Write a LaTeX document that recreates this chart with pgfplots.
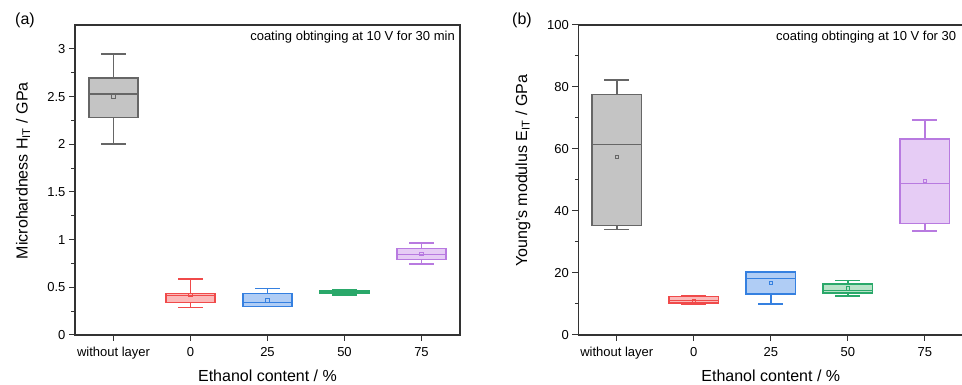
\documentclass[border=0pt]{standalone}
\usepackage{fontspec}
\setmainfont{Liberation Sans}
\usepackage{pgfplots}
\pgfplotsset{compat=1.18}
\usepgfplotslibrary{statistics}

\definecolor{gstroke}{HTML}{666666}\definecolor{gfill}{HTML}{C4C4C4}
\definecolor{rstroke}{HTML}{F04A4A}\definecolor{rfill}{HTML}{FBB9B9}
\definecolor{bstroke}{HTML}{3580E0}\definecolor{bfill}{HTML}{B0CDF5}
\definecolor{tstroke}{HTML}{2AA86A}\definecolor{tfill}{HTML}{B8E3C8}
\definecolor{pstroke}{HTML}{B87AE0}\definecolor{pfill}{HTML}{E6CCF5}

\pgfplotsset{
  mystyle/.style={
    scale only axis, width=385pt, height=310pt,
    xmin=-0.5, xmax=4.5, ymin=0,
    xtick={0,1,2,3,4}, xticklabels={without layer,0,25,50,75},
    axis line style={line width=1.3pt, black!80},
    tick style={line width=1pt, black!80},
    tick align=outside, xtick pos=bottom, ytick pos=left,
    major tick length=6pt, minor tick length=3.5pt,
    minor y tick num=1,
    ticklabel style={font=\fontsize{13}{15}\selectfont},
    xticklabel style={yshift=-3pt},
    label style={font=\fontsize{16}{19}\selectfont},
    /pgf/number format/assume math mode=true,
    /pgf/number format/fixed,
    xlabel={Ethanol content / \%},
    xlabel style={at={(axis description cs:0.5,-0.132)}, anchor=center},
    boxplot/every box/.style={line width=1.5pt},
    boxplot/every whisker/.style={line width=1.5pt},
    boxplot/every median/.style={line width=1.5pt},
  },
  bx/.style 2 args={draw=#1, fill=#2, line width=1.5pt, solid, mark=none,
    boxplot/draw direction=y, boxplot/box extend=0.64, boxplot/whisker extend=0.32},
  mn/.style={only marks, mark=square, mark size=1.8pt, draw=#1, line width=0.5pt},
}

\begin{document}
\begin{tikzpicture}
\begin{axis}[mystyle, at={(75pt,50pt)}, anchor=south west,
  ymax=3.25, ytick={0,0.5,1,1.5,2,2.5,3},
  ylabel={Microhardness H\textsubscript{IT} / GPa},
  ylabel style={at={(axis description cs:-0.135,0.53)}, anchor=center}]
\addplot[bx={gstroke}{gfill}, boxplot prepared={draw position=0, lower whisker=2.003, lower quartile=2.280, median=2.524, upper quartile=2.692, upper whisker=2.944}] coordinates {};
\addplot[bx={rstroke}{rfill}, boxplot prepared={draw position=1, lower whisker=0.290, lower quartile=0.343, median=0.416, upper quartile=0.437, upper whisker=0.587}] coordinates {};
\addplot[bx={bstroke}{bfill}, boxplot prepared={draw position=2, lower whisker=0.297, lower quartile=0.299, median=0.343, upper quartile=0.437, upper whisker=0.486}] coordinates {};
\addplot[bx={tstroke}{tfill}, boxplot prepared={draw position=3, lower whisker=0.420, lower quartile=0.434, median=0.451, upper quartile=0.465, upper whisker=0.476}] coordinates {};
\addplot[bx={pstroke}{pfill}, boxplot prepared={draw position=4, lower whisker=0.745, lower quartile=0.790, median=0.846, upper quartile=0.906, upper whisker=0.962}] coordinates {};
\addplot[mn=gstroke] coordinates {(0,2.50)};
\addplot[mn=rstroke] coordinates {(1,0.42)};
\addplot[mn=bstroke] coordinates {(2,0.367)};
\addplot[mn=tstroke] coordinates {(3,0.444)};
\addplot[mn=pstroke] coordinates {(4,0.85)};
\node[anchor=north east, inner sep=0pt, font=\fontsize{13}{15}\selectfont] at ([xshift=-5pt,yshift=-6pt]rel axis cs:1,1) {coating obtinging at 10 V for 30 min};
\end{axis}

\begin{axis}[mystyle, at={(578.3pt,50pt)}, anchor=south west,
  ymax=100, ytick={0,20,40,60,80,100},
  ylabel={Young's modulus E\textsubscript{IT} / GPa},
  ylabel style={at={(axis description cs:-0.1436,0.53)}, anchor=center}]
\addplot[bx={gstroke}{gfill}, boxplot prepared={draw position=0, lower whisker=34.1, lower quartile=35.4, median=61.5, upper quartile=77.6, upper whisker=82.3}] coordinates {};
\addplot[bx={rstroke}{rfill}, boxplot prepared={draw position=1, lower whisker=10.0, lower quartile=10.3, median=11.2, upper quartile=12.4, upper whisker=12.7}] coordinates {};
\addplot[bx={bstroke}{bfill}, boxplot prepared={draw position=2, lower whisker=10.0, lower quartile=13.2, median=18.2, upper quartile=20.3, upper whisker=20.4}] coordinates {};
\addplot[bx={tstroke}{tfill}, boxplot prepared={draw position=3, lower whisker=12.6, lower quartile=13.5, median=14.4, upper quartile=16.4, upper whisker=17.6}] coordinates {};
\addplot[bx={pstroke}{pfill}, boxplot prepared={draw position=4, lower whisker=33.6, lower quartile=35.9, median=48.9, upper quartile=63.3, upper whisker=69.4}] coordinates {};
\addplot[mn=gstroke] coordinates {(0,57.5)};
\addplot[mn=rstroke] coordinates {(1,11.1)};
\addplot[mn=bstroke] coordinates {(2,16.9)};
\addplot[mn=tstroke] coordinates {(3,15.0)};
\addplot[mn=pstroke] coordinates {(4,49.7)};
\node[anchor=north west, inner sep=0pt, font=\fontsize{13}{15}\selectfont] at ([xshift=197.7pt,yshift=-6pt]rel axis cs:0,1) {coating obtinging at 10 V for 30};
\end{axis}

\node[font=\fontsize{16}{19}\selectfont] at (25pt,365pt) {(a)};
\node[font=\fontsize{16}{19}\selectfont] at (522pt,365pt) {(b)};

\pgfresetboundingbox
\useasboundingbox (0pt,0pt) rectangle (962pt,385pt);
\end{tikzpicture}
\end{document}
